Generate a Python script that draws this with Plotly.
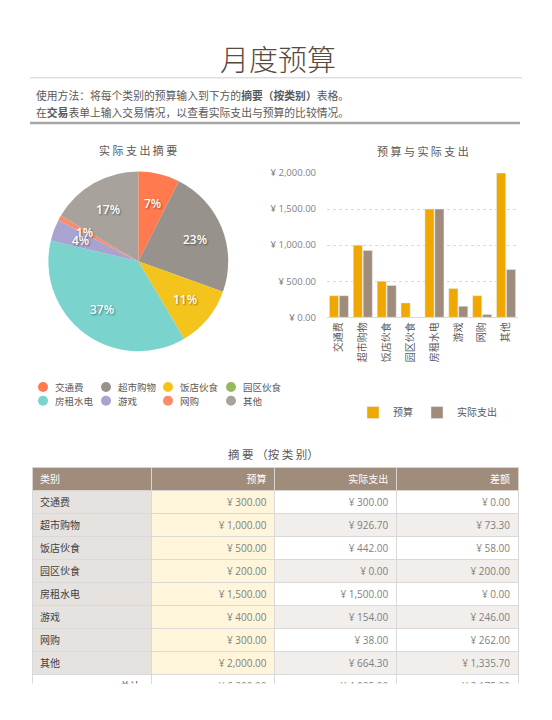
import math
import plotly.graph_objects as go

# ---------------- data ----------------
categories = ["交通费", "超市购物", "饭店伙食", "园区伙食", "房租水电", "游戏", "网购", "其他"]
budget = [300, 1000, 500, 200, 1500, 400, 300, 2000]
actual = [300, 926.70, 442, 0, 1500, 154, 38, 664.30]
pie_colors = ["#FF7B4F", "#98928C", "#F5C41C", "#96B95B", "#7AD3CC", "#A9A3CF", "#FA8B6C", "#A8A29C"]
bar_colors = {"预算": "#F0A800", "实际支出": "#A08C7A"}
y_ticks = [0, 500, 1000, 1500, 2000]
total_label = "总计"

# page: 552x720 window, body margin 8px -> figure 536x704
OFF = 8
W, H = 552 - 2 * OFF, 720 - 2 * OFF
CJK = "Noto Sans CJK SC"
NUMF = "Open Sans, Noto Sans CJK SC"


def px_x(x):
    return (x - OFF) / W


def px_y(y):
    return 1 - (y - OFF) / H


def fmt(v):
    return f"¥ {v:,.2f}"


fig = go.Figure()

# ---------------- pie ----------------
PIE_CX, PIE_CY, PIE_R = 138.3, 259, 91.6
fig.add_trace(go.Pie(
    labels=categories, values=actual, textinfo="none",
    sort=False, direction="clockwise", rotation=0,
    marker=dict(colors=pie_colors, line=dict(width=0)),
    domain=dict(x=[px_x(PIE_CX - PIE_R), px_x(PIE_CX + PIE_R)],
                y=[px_y(PIE_CY + PIE_R), px_y(PIE_CY - PIE_R)]),
    showlegend=False, hoverinfo="label+value+percent",
))

# percentage labels placed on each slice bisector (computed from the data)
annotations = []
total_actual = sum(actual)
cum = 0.0
for v in actual:
    frac = v / total_actual
    mid = cum + frac / 2
    cum += frac
    if v <= 0:
        continue
    ang = math.pi / 2 - 2 * math.pi * mid
    lx = PIE_CX + 0.667 * PIE_R * math.cos(ang)
    ly = PIE_CY - 0.667 * PIE_R * math.sin(ang)
    annotations.append(dict(
        text=f"{round(frac * 100)}%", x=px_x(lx), y=px_y(ly), borderpad=0,
        font=dict(family=NUMF, size=12, color="white", weight=600,
                  shadow="1px 1px 2px rgba(0,0,0,0.45)")))

# ---------------- bars ----------------
fig.add_trace(go.Bar(x=categories, y=budget, name="预算",
                     marker=dict(color=bar_colors["预算"]), legend="legend"))
fig.add_trace(go.Bar(x=categories, y=actual, name="实际支出",
                     marker=dict(color=bar_colors["实际支出"]), legend="legend2"))

# ---------------- table ----------------
diff = [b - a for b, a in zip(budget, actual)]
col_cat = categories + ["\u3000" * 8 + total_label]
col_budget = [fmt(v) for v in budget] + [fmt(sum(budget))]
col_actual = [fmt(v) for v in actual] + [fmt(sum(actual))]
col_diff = [fmt(v) for v in diff] + [fmt(sum(diff))]
n = len(categories)
alt = ["#FFFFFF" if i % 2 == 0 else "#F1EEEB" for i in range(n)] + ["#FFFFFF"]
fill = [["#E6E2DF"] * n + ["#FFFFFF"], ["#FFF5DA"] * n + ["#FFFFFF"], alt, alt]

fig.add_trace(go.Table(
    domain=dict(x=[px_x(32), px_x(519)], y=[px_y(690), px_y(469)]),
    columnwidth=[120, 123, 122, 122],
    header=dict(values=["类别", "预算", "实际支出", "差额"],
                fill=dict(color="#A08C7A"),
                align=["left", "right", "right", "right"],
                font=dict(family=CJK, size=10, color="white"),
                line=dict(color="#D9D4CF", width=1), height=23),
    cells=dict(values=[col_cat, col_budget, col_actual, col_diff],
               fill=dict(color=fill), align=["left", "right", "right", "right"],
               font=dict(family=NUMF, size=10, color=["#404040", "#7F7F7F", "#7F7F7F", "#7F7F7F"]),
               line=dict(color="#D9D9D9", width=1), height=23),
))

# ---------------- text ----------------
annotations += [
    dict(text="月度预算", x=px_x(278), y=px_y(51.5), font=dict(family=CJK, size=29, color="#594A40", weight=300)),
    dict(text="使用方法：将每个类别的预算输入到下方的<b>摘要（按类别）</b>表格。",
         x=px_x(34), y=px_y(89), xanchor="left", font=dict(family=CJK, size=10.8, color="#595959")),
    dict(text="在<b>交易</b>表单上输入交易情况，以查看实际支出与预算的比较情况。",
         x=px_x(34), y=px_y(106.5), xanchor="left", font=dict(family=CJK, size=10.8, color="#595959")),
    dict(text="实 际 支 出 摘 要", x=px_x(138), y=px_y(146), font=dict(family=CJK, size=11, color="#595959")),
    dict(text="预 算 与 实 际 支 出", x=px_x(423), y=px_y(147), font=dict(family=CJK, size=11, color="#595959")),
    dict(text="摘 要 （按 类 别）", x=px_x(273), y=px_y(455), font=dict(family=CJK, size=11.5, color="#595959")),
]

shapes = [
    dict(type="line", xref="paper", yref="paper", x0=px_x(30), x1=px_x(522), y0=px_y(72), y1=px_y(72),
         line=dict(color="#CFCFCF", width=1)),
    dict(type="line", xref="paper", yref="paper", x0=px_x(30), x1=px_x(520), y0=px_y(118), y1=px_y(118),
         line=dict(color="#A6A6A6", width=2.5)),
]

# pie legend: circle key + label, two rows of four
leg_mx = [43, 106, 168, 231]
leg_ry = [387, 401]
for i, (cat, col) in enumerate(zip(categories, pie_colors)):
    mx, ry = leg_mx[i % 4], leg_ry[i // 4]
    shapes.append(dict(type="circle", xref="paper", yref="paper",
                       x0=px_x(mx - 5), x1=px_x(mx + 5), y0=px_y(ry + 5), y1=px_y(ry - 5),
                       fillcolor=col, line=dict(width=0)))
    annotations.append(dict(text=cat, x=px_x(mx + 11), y=px_y(ry), xanchor="left", borderpad=0,
                            font=dict(family=CJK, size=9.5, color="#595959")))

for a in annotations:
    a.update(xref="paper", yref="paper", showarrow=False)
    a.setdefault("xanchor", "center")
    a["yanchor"] = "middle"

leg_font = dict(family=CJK, size=10, color="#595959")
fig.update_layout(
    width=W, height=H, margin=dict(l=0, r=0, t=0, b=0),
    paper_bgcolor="white", plot_bgcolor="white",
    font=dict(family=CJK, color="#595959"),
    annotations=annotations, shapes=shapes,
    barmode="group", bargap=0.17, bargroupgap=0.08,
    xaxis=dict(domain=[px_x(327), px_x(518)], type="category", categoryorder="array",
               categoryarray=categories, tickangle=-90, showgrid=False,
               showline=True, linecolor="#D9D9D9", linewidth=1, ticks="",
               tickfont=dict(family=CJK, size=10, color="#595959"), fixedrange=True),
    yaxis=dict(domain=[px_y(316), px_y(169)], range=[0, 2000], tickvals=y_ticks,
               ticktext=[fmt(v) for v in y_ticks], ticklabelstandoff=10,
               showgrid=True, gridcolor="#D9D9D9",
               griddash="dot", zeroline=False, showline=False, ticks="",
               tickfont=dict(family=NUMF, size=9.5, color="#7F7F7F"), fixedrange=True),
    legend=dict(orientation="h", x=px_x(372 - 19), y=px_y(413), xanchor="left", yanchor="middle",
                font=leg_font, itemclick=False, bgcolor="rgba(0,0,0,0)"),
    legend2=dict(orientation="h", x=px_x(436 - 19), y=px_y(413), xanchor="left", yanchor="middle",
                 font=leg_font, itemclick=False, bgcolor="rgba(0,0,0,0)"),
    showlegend=True,
)

fig.write_html("out.html")
